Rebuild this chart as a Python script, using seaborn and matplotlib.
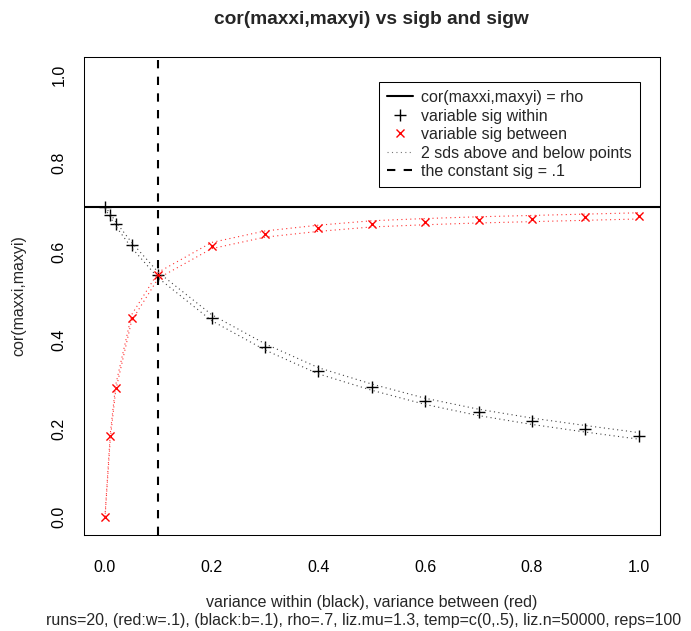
import matplotlib
matplotlib.use("Agg")
import matplotlib.pyplot as plt
from matplotlib.lines import Line2D
import numpy as np
import pandas as pd
import seaborn as sns

# Simulation settings
rho = 0.7
sig_const = 0.1

# Variance values on the x axis
sig = [0.0, 0.01, 0.02, 0.05, 0.1, 0.2, 0.3, 0.4, 0.5, 0.6, 0.7, 0.8, 0.9, 1.0]

# Mean correlation when the within-variance varies (between fixed at .1)
cor_within = [0.700, 0.682, 0.663, 0.615, 0.547, 0.451, 0.385, 0.331,
              0.294, 0.262, 0.237, 0.217, 0.200, 0.184]
# Standard deviation of that correlation across runs
sd_within = [0.0010, 0.0020, 0.0025, 0.0030, 0.0032, 0.0034, 0.0035, 0.0035,
             0.0035, 0.0035, 0.0036, 0.0036, 0.0037, 0.0037]

# Mean correlation when the between-variance varies (within fixed at .1)
cor_between = [0.000, 0.183, 0.292, 0.451, 0.547, 0.614, 0.640, 0.653,
               0.663, 0.668, 0.672, 0.675, 0.678, 0.681]
sd_between = [0.0010, 0.0030, 0.0032, 0.0034, 0.0034, 0.0035, 0.0035, 0.0035,
              0.0035, 0.0035, 0.0035, 0.0035, 0.0035, 0.0035]

x_ticks = [0.0, 0.2, 0.4, 0.6, 0.8, 1.0]
y_ticks = [0.0, 0.2, 0.4, 0.6, 0.8, 1.0]

title = "cor(maxxi,maxyi) vs sigb and sigw"
xlabel = "variance within (black), variance between (red)"
ylabel = "cor(maxxi,maxyi)"
subtitle = ("runs=20, (red:w=.1), (black:b=.1), rho=.7, liz.mu=1.3, "
            "temp=c(0,.5), liz.n=50000, reps=100")
legend_labels = ["cor(maxxi,maxyi) = rho", "variable sig within",
                 "variable sig between", "2 sds above and below points",
                 "the constant sig = .1"]

sns.set_style("white")
plt.rcParams["font.family"] = ["Liberation Sans", "DejaVu Sans"]

df = pd.DataFrame({
    "sig": sig,
    "within": cor_within, "within_sd": sd_within,
    "between": cor_between, "between_sd": sd_between,
})
df["within_hi"] = df["within"] + 2 * df["within_sd"]
df["within_lo"] = df["within"] - 2 * df["within_sd"]
df["between_hi"] = df["between"] + 2 * df["between_sd"]
df["between_lo"] = df["between"] - 2 * df["between_sd"]

W, H = 691, 631
fig = plt.figure(figsize=(W / 100, H / 100), dpi=100)
left, right, top, bottom = 83.6, 660.0, 57.0, 535.0
ax = fig.add_axes([left / W, 1 - bottom / H, (right - left) / W, (bottom - top) / H])

FS = 11.5
dot = (0, (1, 3))

# +/- 2 sd bands
for col, c in [("within_hi", "#444444"), ("within_lo", "#444444"),
               ("between_hi", "#ff3030"), ("between_lo", "#ff3030")]:
    sns.lineplot(data=df, x="sig", y=col, ax=ax, color=c, lw=0.8,
                 linestyle=dot, legend=False)

# Means
sns.scatterplot(data=df, x="sig", y="within", ax=ax, marker="+", s=72,
                color="black", linewidth=1.0, legend=False)
sns.scatterplot(data=df, x="sig", y="between", ax=ax, marker="x", s=34,
                color="#ff0000", linewidth=1.0, legend=False)

ax.axhline(rho, color="black", lw=1.5)
ax.axvline(sig_const, color="black", lw=1.5, linestyle=(0, (4, 4)))

ax.set_xlim(-0.04, 1.04)
ax.set_ylim(-0.04, 1.04)
ax.set_xticks(x_ticks)
ax.set_yticks(y_ticks)
ax.set_xticklabels([f"{v:.1f}" for v in x_ticks], fontsize=FS)
ax.set_yticklabels([f"{v:.1f}" for v in y_ticks], fontsize=FS, rotation=90,
                   va="center")
ax.tick_params(axis="both", direction="out", length=7.2, width=0.75,
               color="black", labelcolor="black")
ax.tick_params(axis="x", pad=11)
ax.tick_params(axis="y", pad=5)
ax.set_xlabel("")
ax.set_ylabel("")
for s in ax.spines.values():
    s.set_visible(True)
    s.set_color("black")
    s.set_linewidth(0.75)

fig.text((left + right) / 2 / W, 1 - 20 / H, title, ha="center", va="center",
         fontsize=13.8, fontweight="bold")
fig.text((left + right) / 2 / W, 1 - 603 / H, xlabel, ha="center",
         va="center", fontsize=FS)
fig.text(364 / W, 1 - 620 / H, subtitle, ha="center",
         va="center", fontsize=FS)
fig.text(19 / W, 1 - (top + bottom) / 2 / H, ylabel, ha="center",
         va="center", rotation=90, fontsize=FS)

handles = [
    Line2D([], [], color="black", lw=1.5),
    Line2D([], [], color="black", marker="+", ls="none", ms=8.5, mew=1.0),
    Line2D([], [], color="#ff0000", marker="x", ls="none", ms=6, mew=1.0),
    Line2D([], [], color="#777777", lw=0.8, linestyle=dot),
    Line2D([], [], color="black", lw=1.5, linestyle=(0, (4, 4))),
]
leg = ax.legend(handles, legend_labels, loc="upper left",
                bbox_to_anchor=(379 / W, 1 - 82 / H),
                bbox_transform=fig.transFigure, borderaxespad=0,
                fontsize=FS, frameon=True, fancybox=False, shadow=False,
                framealpha=1, edgecolor="black", labelspacing=0.22,
                handlelength=1.6, handletextpad=0.55, borderpad=0.5)
leg.get_frame().set_linewidth(0.75)

fig.savefig("out.png", dpi=100, facecolor="white")
